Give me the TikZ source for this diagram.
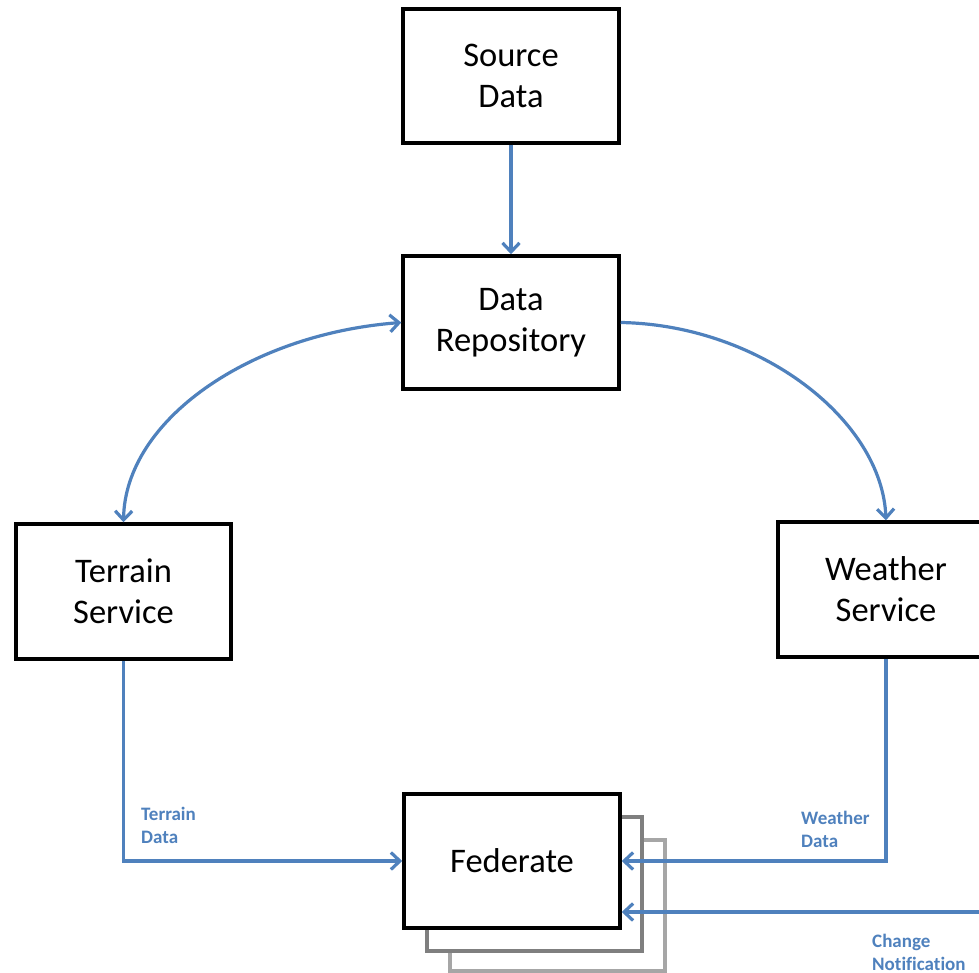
\documentclass[tikz,border=0pt]{standalone}
\usepackage{fontspec}
\setmainfont{Carlito}[Ligatures=NoCommon]
\usetikzlibrary{arrows.meta}
\definecolor{linkblue}{HTML}{4F81BD}
\definecolor{stackdark}{HTML}{7F7F7F}
\definecolor{stacklight}{HTML}{A6A6A6}
\tikzset{
  box/.style={draw=black, line width=3.5pt, fill=white, minimum width=216pt,
    minimum height=134pt, inner sep=0pt, align=center,
    font=\fontsize{34.5}{41}\selectfont},
  stackbox/.style={line width=3.2pt, fill=white, minimum width=215pt,
    minimum height=134pt, inner sep=0pt},
  flow/.style={draw=linkblue, line width=3.2pt,
    -{Straight Barb[length=9pt,width=17pt]}},
  flowboth/.style={flow, {Straight Barb[length=9pt,width=17pt]}-{Straight Barb[length=9pt,width=17pt]}},
  tag/.style={text=linkblue, align=left, inner sep=0pt,
    font=\bfseries\fontsize{19}{23}\selectfont}
}
\begin{document}
\begin{tikzpicture}[x=1pt,y=-1pt]
  \useasboundingbox (0,0) rectangle (979,973);
  \clip (0,0) rectangle (979,973);

  % boxes
  \node[box] (src)  at (511,76)     {Source\\Data};
  \node[box, minimum height=133pt] (repo) at (511,322.5) {Data\\Repository};
  \node[box, minimum width=215pt, minimum height=135pt] (terr) at (123.5,591.5) {Terrain\\Service};
  \node[box, minimum height=135pt] (wea)  at (886,589.5) {Weather\\Service};

  % stacked federate copies
  \node[stackbox, draw=stacklight, minimum height=131pt] (fedb2) at (557.5,905.5) {};
  \node[stackbox, draw=stackdark]  (fedb1) at (534.5,884) {};
  \node[box] (fed) at (512,861) {Federate};

  % connectors
  \draw[flow] (src.south) -- (repo.north);
  \draw[flowboth] (repo.west) .. controls (250,334) and (125,420) .. (terr.north);
  \draw[flow] (repo.east) .. controls (760,325) and (882,420) .. (wea.north);
  \draw[flow] (terr.south) |- (fed.west);
  \draw[flow] (wea.south) |- (fed.east);
  \coordinate (cn) at (985,912);
  \draw[flow] (cn) -- (cn -| fed.east);

  % connector labels
  \node[tag, anchor=west] (tlab) at (141,825.5) {Terrain\\Data};
  \node[tag, anchor=west] (wlab) at (801,829) {Weather\\Data};
  \node[tag, anchor=west] (clab) at (872,952) {Change\\Notification};
\end{tikzpicture}
\end{document}
